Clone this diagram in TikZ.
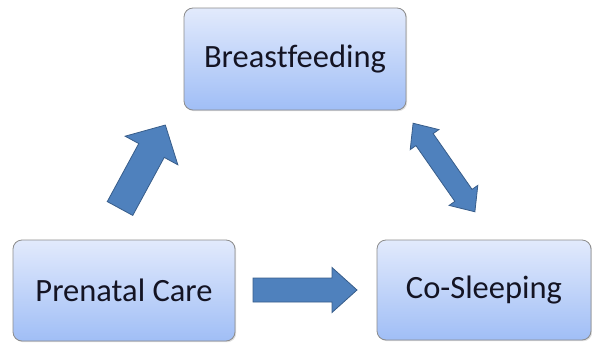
\documentclass[tikz,border=0pt]{standalone}
\usepackage{fontspec}
\setmainfont[Ligatures=NoCommon]{Carlito}
\usetikzlibrary{shadows}
\definecolor{boxtop}{RGB}{226,234,252}
\definecolor{boxbot}{RGB}{160,190,246}
\definecolor{boxline}{RGB}{140,140,140}
\definecolor{arrfill}{RGB}{79,129,189}
\definecolor{arrline}{RGB}{56,93,138}
\definecolor{txt}{RGB}{20,20,35}
\tikzset{
  stagebox/.style={rounded corners=9pt, draw=boxline, line width=0.8pt,
    top color=boxtop, bottom color=boxbot, inner sep=0pt,
    font=\fontsize{32.5}{38}\selectfont, text=txt,
    drop shadow={shadow xshift=1.2pt, shadow yshift=-1.2pt, opacity=0.25}},
  blockarrow/.style={fill=arrfill, draw=arrline, line width=0.8pt, line join=miter}
}
\begin{document}
\begin{tikzpicture}[x=1pt,y=-1pt]
\useasboundingbox (0,0) rectangle (592,343);
\node[stagebox, minimum width=222pt, minimum height=102pt] (bf) at (295,59) {Breastfeeding};
\node[stagebox, minimum width=222pt, minimum height=101pt] (pc) at (124,290.5) {Prenatal Care};
\node[stagebox, minimum width=214pt, minimum height=100pt] (cs) at (484,290) {\raisebox{-2pt}{Co-Sleeping}};
% right arrow: Prenatal Care -> Co-Sleeping
\begin{scope}[shift={(253,290)}]
  \path[blockarrow] (0,-12)--(79,-12)--(79,-22.5)--(104,0)--(79,22.5)--(79,12)--(0,12)--cycle;
\end{scope}
% up-right arrow: Prenatal Care -> Breastfeeding
\begin{scope}[shift={(120,208.5)}, rotate=61.5]
  \path[blockarrow] (0,-14.5)--(66,-14.5)--(66,-30)--(95,0)--(66,30)--(66,14.5)--(0,14.5)--cycle;
\end{scope}
% double arrow: Breastfeeding <-> Co-Sleeping
\begin{scope}[shift={(444,167.5)}, rotate=-55.1]
  \path[blockarrow] (-54,0)--(-34,-17.5)--(-34,-10.5)--(34,-10.5)--(34,-17.5)--(54,0)--(34,17.5)--(34,10.5)--(-34,10.5)--(-34,17.5)--cycle;
\end{scope}
\end{tikzpicture}
\end{document}
